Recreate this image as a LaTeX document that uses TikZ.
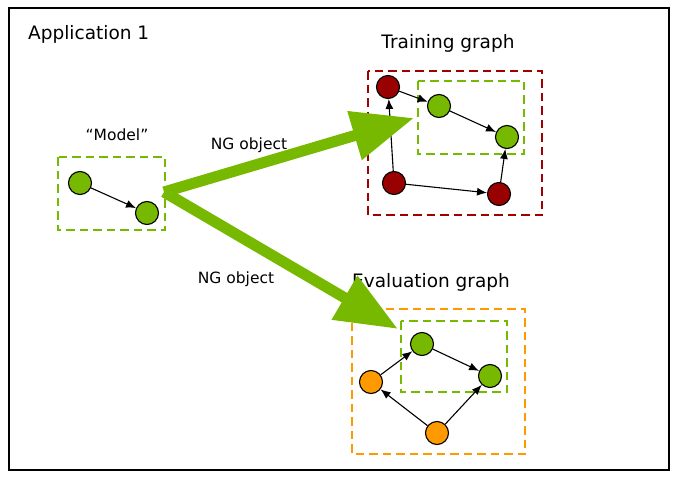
\documentclass[tikz,border=0pt]{standalone}
\usepackage{fontspec}
\setmainfont{DejaVu Sans}
\usetikzlibrary{arrows.meta}
\definecolor{ngreen}{HTML}{76B900}
\definecolor{dred}{HTML}{990000}
\definecolor{boxred}{HTML}{A00000}
\definecolor{orng}{HTML}{FF9900}
\tikzset{
  vert/.style={circle,draw=black,line width=1.1pt,minimum size=23pt,inner sep=0pt},
  gv/.style={vert,fill=ngreen},
  rv/.style={vert,fill=dred},
  ov/.style={vert,fill=orng},
  edge/.style={line width=1.1pt,-{Latex[length=10pt,width=8pt]}},
  dbox/.style={line width=2pt,dash pattern=on 8.5pt off 5pt},
  bigarrow/.style={draw=ngreen,line width=11pt,-{Triangle[length=62pt,width=48pt]}},
  big/.style={font=\fontsize{18.5}{20}\selectfont,anchor=base,inner sep=0pt},
  small/.style={font=\fontsize{15.5}{17}\selectfont,anchor=base,inner sep=0pt},
}
\begin{document}
\begin{tikzpicture}[x=1pt,y=-1pt]
\useasboundingbox (0,0) rectangle (686,482);
\draw[line width=2pt] (9,8) rectangle (669,470);
\node[big,anchor=base west] (app) at (28,39) {Application 1};
\node[big] (tg) at (448,48) {Training graph};
\node[big] (eg) at (431,287) {Evaluation graph};
\node[small] (mod) at (117,140) {“Model”};
\node[small] (ng1) at (249,149) {NG object};
\node[small] (ng2) at (236,283) {NG object};
% model
\draw[dbox,ngreen] (58,157) rectangle (165,230);
\node[gv] (m1) at (80,183) {};
\node[gv] (m2) at (147,213) {};
\draw[edge] (m1) -- (m2);
% training
\draw[dbox,boxred] (368,71) rectangle (542,215);
\draw[dbox,ngreen] (418,81) rectangle (524,154);
\node[rv] (r1) at (388,87) {};
\node[rv] (r2) at (394,183) {};
\node[rv] (r3) at (499,194) {};
\node[gv] (t1) at (439,106) {};
\node[gv] (t2) at (507,137) {};
\draw[edge] (r2) -- (r1);
\draw[edge] (r1) -- (t1);
\draw[edge] (t1) -- (t2);
\draw[edge] (r2) -- (r3);
\draw[edge] (r3) -- (t2);
% evaluation
\draw[dbox,orng] (352,309) rectangle (525,454);
\draw[dbox,ngreen] (401,321) rectangle (507,392);
\node[gv] (e1) at (422,344) {};
\node[gv] (e2) at (490,376) {};
\node[ov] (o1) at (371,382) {};
\node[ov] (o2) at (437,433) {};
\draw[edge] (o1) -- (e1);
\draw[edge] (e1) -- (e2);
\draw[edge] (o2) -- (o1);
\draw[edge] (o2) -- (e2);
% big arrows
\coordinate (src) at (164,192);
\coordinate (tipA) at (414,118);
\coordinate (tipB) at (398,329);
\draw[bigarrow] (src) -- (tipA);
\draw[bigarrow] (src) -- (tipB);
\end{tikzpicture}
\end{document}
